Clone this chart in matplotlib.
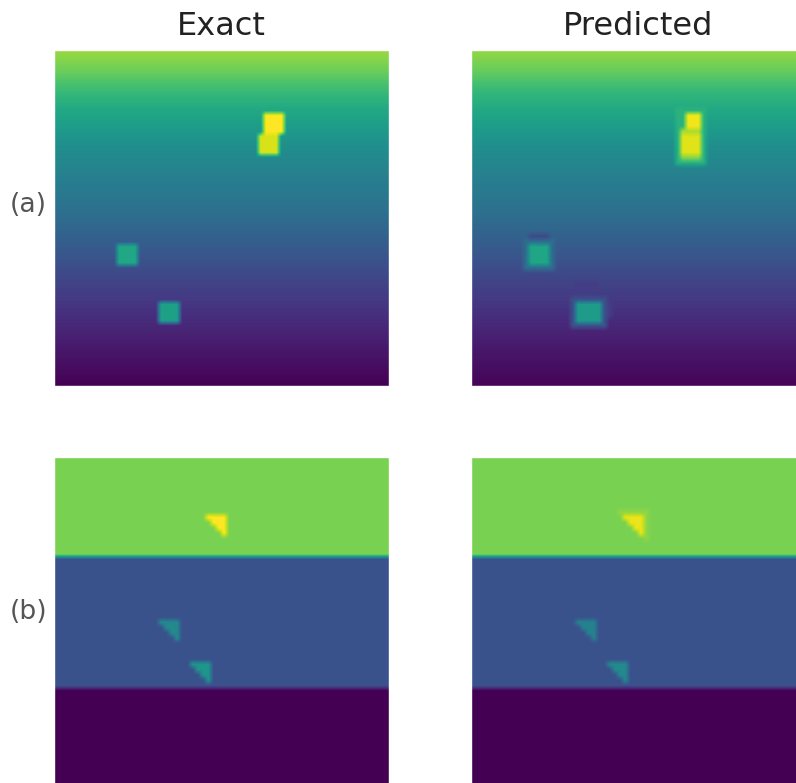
import numpy as np
import matplotlib
matplotlib.use("Agg")
import matplotlib.pyplot as plt

# grid size of the fields
n = 64

# (a) background: colour value read at fractional depths, top -> bottom
exact_a_depth = [0.0, 0.06, 0.12, 0.18, 0.28, 0.38, 0.48, 0.58, 0.68, 0.78, 0.88, 1.0]
exact_a_value = [0.85, 0.78, 0.68, 0.60, 0.50, 0.43, 0.37, 0.29, 0.21, 0.14, 0.07, 0.0]
pred_a_depth = [0.0, 0.06, 0.12, 0.18, 0.28, 0.38, 0.48, 0.58, 0.68, 0.78, 0.88, 1.0]
pred_a_value = [0.84, 0.77, 0.67, 0.60, 0.50, 0.43, 0.37, 0.29, 0.21, 0.14, 0.07, 0.01]

# (a) anomalies: (row0, row1, col0, col1, value), later entries drawn on top
exact_a_blobs = [
    (12, 16, 40, 44, 1.00),
    (16, 20, 39, 43, 0.94),
    (37, 41, 12, 16, 0.60),
    (48, 52, 20, 24, 0.57),
]
pred_a_blobs = [
    (11, 22, 39, 45, 0.64),
    (20, 21, 40, 44, 0.82),
    (16, 20, 40, 44, 0.95),
    (15, 16, 40, 44, 0.87),
    (12, 15, 41, 44, 0.98),
    (35, 36, 11, 15, 0.22),
    (36, 42, 10, 16, 0.36),
    (37, 41, 11, 15, 0.59),
    (44, 47, 20, 24, 0.18),
    (48, 51, 25, 27, 0.18),
    (47, 53, 19, 26, 0.25),
    (48, 52, 20, 25, 0.55),
]

# (b) layered model: (row0, row1, value)
exact_b_layers = [(0, 19, 0.80), (19, 44, 0.25), (44, 64, 0.0)]
pred_b_layers = [(0, 19, 0.80), (19, 44, 0.25), (44, 64, 0.0)]

# (b) triangular anomalies: (row0, col0, size, value)
exact_b_tris = [(11, 29, 4, 1.00), (31, 20, 4, 0.47), (39, 26, 4, 0.52)]
pred_b_tris = [(10, 28, 6, 0.83), (11, 29, 4, 0.97),
               (31, 20, 4, 0.44), (39, 26, 4, 0.47)]

col_titles = ["Exact", "Predicted"]
row_labels = ["(a)", "(b)"]


def field_a(depth, value, blobs):
    rows = (np.arange(n) + 0.5) / n
    f = np.repeat(np.interp(rows, depth, value)[:, None], n, axis=1)
    for r0, r1, c0, c1, v in blobs:
        f[r0:r1, c0:c1] = v
    return f


def field_b(layers, tris):
    f = np.zeros((n, n))
    for r0, r1, v in layers:
        f[r0:r1, :] = v
    for r0, c0, s, v in tris:
        for i in range(s):
            f[r0 + i, c0 + i:c0 + s] = v
    return f


fields = [
    [field_a(exact_a_depth, exact_a_value, exact_a_blobs),
     field_a(pred_a_depth, pred_a_value, pred_a_blobs)],
    [field_b(exact_b_layers, exact_b_tris),
     field_b(pred_b_layers, pred_b_tris)],
]

W, H = 796, 783
fig = plt.figure(figsize=(W / 100, H / 100), dpi=100)
lefts = [54, 471]
tops = [50, 457]
aw, ah = 335, 336

for i in range(2):
    for j in range(2):
        ax = fig.add_axes([lefts[j] / W, 1 - (tops[i] + ah) / H, aw / W, ah / H])
        ax.imshow(fields[i][j], cmap="viridis", vmin=0, vmax=1,
                  interpolation="bilinear", extent=(0, n, n, 0), aspect="auto")
        ax.set_xticks([])
        ax.set_yticks([])
        for s in ax.spines.values():
            s.set_color("white")
            s.set_linewidth(1.0)
        if i == 0:
            ax.set_title(col_titles[j], fontsize=23, color="#222222", pad=11)
        if j == 0:
            ax.text(-0.021, 0.5, row_labels[i], transform=ax.transAxes,
                    ha="right", va="bottom", fontsize=19.2, color="#555555")

fig.savefig("out.png", dpi=100)
